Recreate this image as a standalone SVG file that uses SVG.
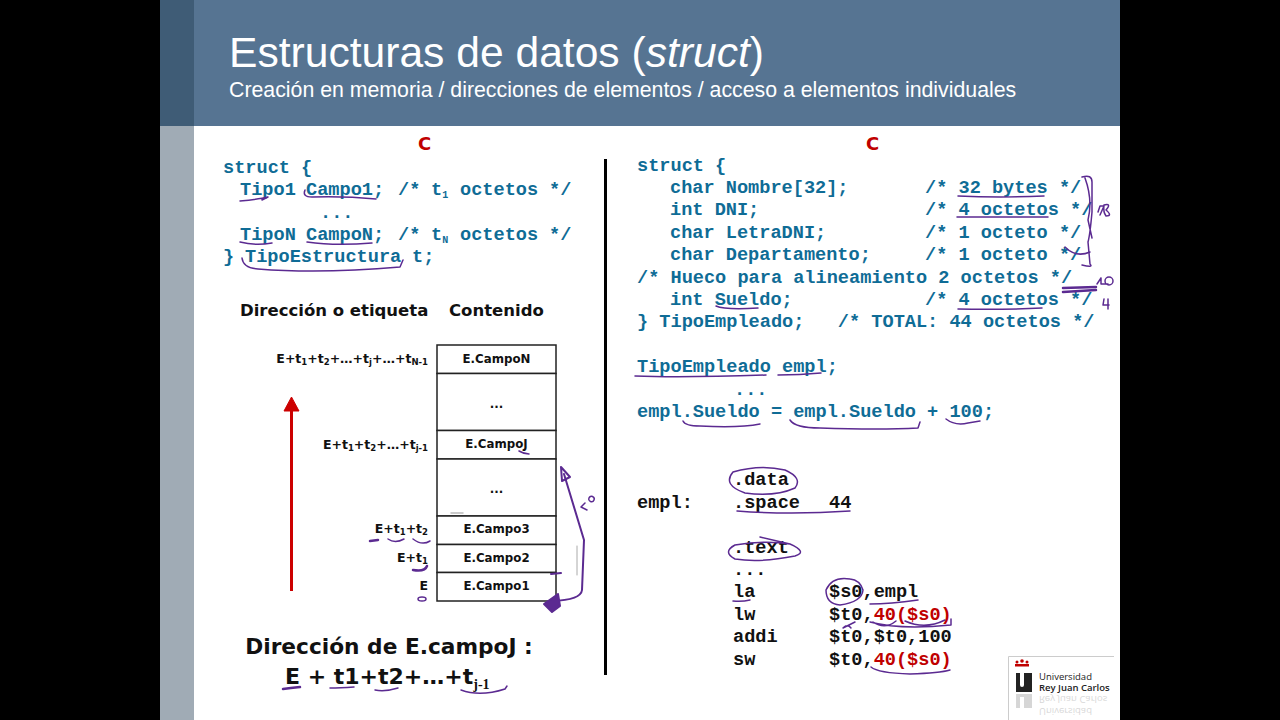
<svg xmlns="http://www.w3.org/2000/svg" width="1280" height="720" viewBox="0 0 1280 720">
<style>
.c{font-family:"Liberation Mono",monospace;font-weight:700;font-size:18.6px;fill:#0f6c96;white-space:pre}
.k{fill:#111}
.h{font-family:"Liberation Sans",Arial,sans-serif;fill:#fff}
.t{font-family:"DejaVu Sans",Verdana,sans-serif;font-weight:700;fill:#111}
.r{fill:#c00000}
.l{font-size:12.5px}
.cell{font-size:11.8px;text-anchor:middle}
.sub{font-size:8.5px}
.ink{fill:none;stroke:#5b2a91;stroke-width:1.5;stroke-linecap:round;stroke-linejoin:round}
.box{fill:#fff;stroke:#222;stroke-width:1.5}
</style>
<rect width="1280" height="720" fill="#000"/>
<rect x="160" width="960" height="720" fill="#fff"/>
<rect x="160" y="126" width="34" height="594" fill="#a0abb5"/>
<rect x="160" width="34" height="126" fill="#3f5c76"/>
<rect x="194" width="926" height="126" fill="#567492"/>
<g id="title">
<text class="h" x="229" y="67" font-size="42.6">Estructuras de datos (<tspan font-style="italic">struct</tspan>)</text>
<text class="h" x="229" y="97" font-size="21.3">Creación en memoria / direcciones de elementos / acceso a elementos individuales</text>
</g>
<g id="c-left">
<text class="t r" x="418" y="150" font-size="18">C</text>
<text class="c" x="223" y="173">struct {</text>
<text class="c" x="240" y="195">Tipo1</text><text class="c" x="306" y="195">Campo1;</text><text class="c" x="398" y="195">/*</text><text class="c" x="431" y="195">t<tspan font-size="10" dy="3">1</tspan></text><text class="c" x="460" y="195">octetos</text><text class="c" x="549" y="195">*/</text>
<text class="c" x="320" y="218">...</text>
<text class="c" x="240" y="240">TipoN</text><text class="c" x="306" y="240">CampoN;</text><text class="c" x="398" y="240">/*</text><text class="c" x="431" y="240">t<tspan font-size="10" dy="3">N</tspan></text><text class="c" x="460" y="240">octetos</text><text class="c" x="549" y="240">*/</text>
<text class="c" x="223" y="262">}</text><text class="c" x="245" y="262">TipoEstructura</text><text class="c" x="412" y="262">t;</text>
</g>
<g id="c-right">
<text class="t r" x="866" y="150" font-size="18">C</text>
<text class="c" x="637" y="171">struct {</text>
<text class="c" x="670" y="193">char Nombre[32];</text><text class="c" x="925" y="193">/* 32 bytes */</text>
<text class="c" x="670" y="215">int DNI;</text><text class="c" x="925" y="215">/* 4 octetos */</text>
<text class="c" x="670" y="238">char LetraDNI;</text><text class="c" x="925" y="238">/* 1 octeto */</text>
<text class="c" x="670" y="260">char Departamento;</text><text class="c" x="925" y="260">/* 1 octeto */</text>
<text class="c" x="637" y="283">/* Hueco para alineamiento 2 octetos */</text>
<text class="c" x="670" y="305">int Sueldo;</text><text class="c" x="925" y="305">/* 4 octetos */</text>
<text class="c" x="637" y="327">} TipoEmpleado;   /* TOTAL: 44 octetos */</text>
<text class="c" x="637" y="372">TipoEmpleado empl;</text>
<text class="c" x="734" y="395">...</text>
<text class="c" x="637" y="417">empl.Sueldo = empl.Sueldo + 100;</text>
</g>
<g id="asm">
<text class="c k" x="733" y="485">.data</text>
<text class="c k" x="637" y="508">empl:</text><text class="c k" x="733" y="508">.space</text><text class="c k" x="829" y="508">44</text>
<text class="c k" x="733" y="553">.text</text>
<text class="c k" x="733" y="575">...</text>
<text class="c k" x="733" y="597">la</text><text class="c k" x="829" y="597">$s0,empl</text>
<text class="c k" x="733" y="620">lw</text><text class="c k" x="829" y="620">$t0,<tspan class="r">40($s0)</tspan></text>
<text class="c k" x="733" y="642">addi</text><text class="c k" x="829" y="642">$t0,$t0,100</text>
<text class="c k" x="733" y="665">sw</text><text class="c k" x="829" y="665">$t0,<tspan class="r">40($s0)</tspan></text>
</g>
<rect id="divider" x="604" y="159" width="3" height="516" fill="#000"/>
<g id="memory">
<text class="t" x="240" y="316" font-size="16.5">Dirección o etiqueta</text>
<text class="t" x="449" y="316" font-size="16.5">Contenido</text>
<g id="cell-n"><rect class="box" x="437" y="345" width="119" height="28.500"/><text class="t cell" x="496.500" y="363">E.CampoN</text></g>
<g id="cell-gap2"><rect class="box" x="437" y="373.500" width="119" height="57"/><text class="t cell" x="496.500" y="408">...</text></g>
<g id="cell-j"><rect class="box" x="437" y="430.500" width="119" height="28.500"/><text class="t cell" x="496.500" y="448">E.CampoJ</text></g>
<g id="cell-gap1"><rect class="box" x="437" y="459" width="119" height="57"/><text class="t cell" x="496.500" y="493">...</text></g>
<g id="cell-3"><rect class="box" x="437" y="516" width="119" height="28.500"/><text class="t cell" x="496.500" y="533">E.Campo3</text></g>
<g id="cell-2"><rect class="box" x="437" y="544.500" width="119" height="28"/><text class="t cell" x="496.500" y="562">E.Campo2</text></g>
<g id="cell-1"><rect class="box" x="437" y="572.500" width="119" height="28.500"/><text class="t cell" x="496.500" y="590">E.Campo1</text></g>
<g text-anchor="end">
<text class="t l" x="428" y="363">E+t<tspan class="sub" dy="2">1</tspan><tspan dy="-2">+t</tspan><tspan class="sub" dy="2">2</tspan><tspan dy="-2">+…+t</tspan><tspan class="sub" dy="2">j</tspan><tspan dy="-2">+…+t</tspan><tspan class="sub" dy="2">N-1</tspan></text>
<text class="t l" x="428" y="449">E+t<tspan class="sub" dy="2">1</tspan><tspan dy="-2">+t</tspan><tspan class="sub" dy="2">2</tspan><tspan dy="-2">+…+t</tspan><tspan class="sub" dy="2">j-1</tspan></text>
<text class="t l" x="428" y="533">E+t<tspan class="sub" dy="2">1</tspan><tspan dy="-2">+t</tspan><tspan class="sub" dy="2">2</tspan></text>
<text class="t l" x="428" y="562">E+t<tspan class="sub" dy="2">1</tspan></text>
<text class="t l" x="428" y="590">E</text>
</g>
</g>
<g id="connectors">
<path d="M291.500 591V410" stroke="#cc0000" stroke-width="3" fill="none"/>
<path d="M284 411L291.500 397L299 411Z" fill="#cc0000" stroke="#cc0000"/>
</g>
<g id="formula">
<text class="t" x="389" y="654" font-size="21.7" text-anchor="middle">Dirección de E.campoJ :</text>
<text class="t" x="285" y="684" font-size="22">E + t1+t2+…+t<tspan font-size="14" dy="5" font-family="Liberation Serif">j-1</tspan></text>
</g>
<g id="logo">
<rect x="1008" y="656" width="106" height="64" fill="#fff"/>
<path d="M1008.500 720V656.500H1114" fill="none" stroke="#ccc"/>
<circle cx="1017" cy="662" r="1.500" fill="#c00000"/><circle cx="1022" cy="661" r="1.800" fill="#c00000"/><circle cx="1027" cy="662" r="1.500" fill="#c00000"/>
<rect x="1015" y="664" width="14" height="2.500" fill="#c00000"/>
<path d="M1016 673H1020V685Q1020 687 1022 687T1024 685V673H1032V692H1016Z" fill="#222"/>
<text x="1039" y="680" font-family="Open Sans,sans-serif" font-size="9.500" fill="#222">Universidad</text>
<text x="1039" y="691" font-family="Open Sans,sans-serif" font-size="9.500" font-weight="600" fill="#222">Rey Juan Carlos</text>
<g opacity="0.18"><text transform="translate(1039 696) scale(1 -1)" font-family="Open Sans,sans-serif" font-size="9.500" fill="#222">Rey Juan Carlos</text>
<text transform="translate(1039 708) scale(1 -1)" font-family="Open Sans,sans-serif" font-size="9.500" fill="#222">Universidad</text>
<path d="M1016 694H1032V708H1024V697H1020V708H1016Z" fill="#222"/></g>
</g>
<g id="annotations" class="ink">
<path d="M240 201Q260 199 268 197L262 200"/><path d="M305 190Q302 197 312 197Q345 196 376 199"/>
<path d="M240 242Q255 246 272 243"/><path d="M307 242Q335 246 372 243"/>
<path d="M242 258Q243 268 258 269Q320 274 400 267L403 260"/>
<path d="M958 196Q1000 198 1044 196"/><path d="M957 217Q1000 217 1048 217"/>
<path d="M958 309Q1000 310 1042 308"/><path d="M716 306Q725 310 758 308"/>
<path d="M1082 177Q1092 174 1092 182V212Q1090 235 1088 242L1090 264Q1094 268 1082 265M1085 178Q1093 200 1088 220L1092 238"/>
<path d="M1065 247Q1076 258 1090 252"/>
<path d="M1063 288L1096 287M1063 292L1096 290" stroke-width="2.500"/>
<path d="M1098 212L1100 206L1104 206L1100 215M1104 205Q1112 203 1106 210Q1113 216 1106 216Q1103 212 1104 205"/>
<path d="M1097 284L1101 278M1101 278V284H1108M1105 281A3 3 0 1 0 1113 281A3 3 0 1 0 1105 281"/>
<path d="M1104 299L1103 305H1109M1108 299V309"/>
<path d="M635 376Q680 378 766 375"/><path d="M778 375Q800 375 821 373"/>
<path d="M683 421Q685 426 700 426Q740 428 760 424"/><path d="M790 420Q795 428 820 428Q880 430 918 428L920 422"/><path d="M946 419Q955 426 968 423L980 421"/>
<path d="M733 472Q760 464 785 470Q803 478 795 488Q775 497 745 493Q722 485 733 472"/>
<path d="M737 511Q790 515 850 511"/>
<path d="M760 537L790 544Q808 552 795 556Q760 563 735 559Q722 552 735 545Q765 540 790 544"/>
<path d="M850 579Q832 576 826 590Q826 604 840 605Q862 602 863 590Q860 580 850 579"/>
<path d="M870 604Q890 604 918 600"/><path d="M733 601Q742 602 750 600"/>
<path d="M873 622Q885 630 896 621M905 621Q925 630 945 620M870 622Q900 630 951 625V619"/>
<path d="M843 628L855 622M844 627Q848 624 851 628"/>
<path d="M871 667Q878 673 910 674Q940 673 950 670"/>
<path d="M283 689Q290 688 300 687" stroke-width="2.500"/><path d="M330 688Q340 688 354 687"/><path d="M375 690Q385 692 398 688"/><path d="M461 690Q480 697 505 689L507 686"/>
<path d="M370 541L378 540" stroke-width="2.500"/><path d="M388 539Q395 544 404 539"/><path d="M413 539Q422 546 430 541"/>
<path d="M413 570Q425 572 427 566" stroke-width="2.500"/><path d="M418 599A2 1 0 1 0 426 599A2 1 0 1 0 418 599"/>
<path d="M519 451Q524 454 529 454"/><path d="M451 513H463" stroke="#bbb"/>
<path d="M551 574L561 573" stroke-width="2"/>
<path d="M564 474Q578 520 584 540L582 590Q581 600 552 601" stroke-width="2"/>
<path d="M561 467L570 477L562 481Z" stroke-width="2"/>
<path d="M558 594L544 604L552 612L560 606Z" fill="#5b2a91" stroke-width="2"/>
<path d="M585 503L581 507L587 510M589 498A2 2 0 1 0 594 500A2 2 0 1 0 589 498"/>
<path d="M577 546V575" stroke="#aaa" stroke-width="1"/>
</g>
</svg>
